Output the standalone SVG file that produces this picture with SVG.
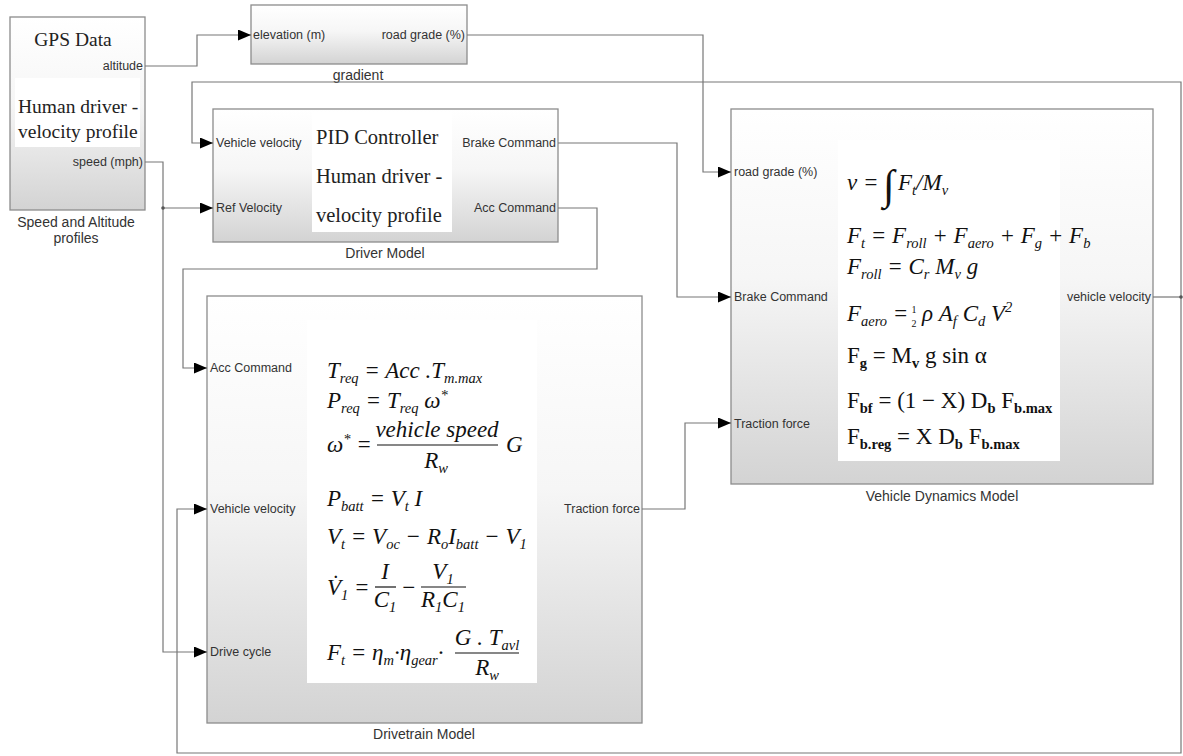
<svg xmlns="http://www.w3.org/2000/svg" width="1183" height="756" viewBox="0 0 1183 756">
<defs>
<linearGradient id="g" x1="0" y1="0" x2="0" y2="1">
<stop offset="0" stop-color="#ffffff"/>
<stop offset="0.45" stop-color="#f6f6f6"/>
<stop offset="1" stop-color="#d3d3d3"/>
</linearGradient>
<marker id="arr" markerUnits="userSpaceOnUse" markerWidth="13" markerHeight="11" refX="13" refY="5.5" orient="auto">
<path d="M0,0 L13,5.5 L0,11 z" fill="#000"/>
</marker>
</defs>
<style>
.blk{fill:url(#g);stroke:#8c8c8c;stroke-width:1.3}
.wb{fill:#ffffff;stroke:none}
.port{font-family:"Liberation Sans",Arial,sans-serif;font-size:12.5px;fill:#333}
.lbl{font-family:"Liberation Sans",Arial,sans-serif;font-size:14px;fill:#333;text-anchor:middle}
.r{text-anchor:end}
.ser{font-family:"Liberation Serif","Times New Roman",serif;font-size:20px;fill:#222}
.eq{font-family:"Liberation Serif","Times New Roman",serif;font-size:23px;font-style:italic;fill:#111}
.eqr{font-family:"Liberation Serif","Times New Roman",serif;font-size:23px;fill:#111}
.sub{font-size:14.5px}
.bs{font-size:14.5px;font-weight:bold}
.mid{text-anchor:middle}
.wire{fill:none;stroke:#777;stroke-width:1.2}
.arw{marker-end:url(#arr)}
.bar{stroke:#111;stroke-width:1.2}
</style>

<g id="gps">
<rect class="blk" x="10" y="17" width="135" height="193"/>
<rect class="wb" x="15" y="78" width="125" height="69"/>
<text class="ser" x="73" y="46" text-anchor="middle" style="font-size:19.5px">GPS Data</text>
<text class="port r" x="143" y="70">altitude</text>
<text class="ser" x="18" y="113" style="font-size:19.5px">Human driver -</text>
<text class="ser" x="18" y="138" style="font-size:19.5px">velocity profile</text>
<text class="port r" x="143" y="166">speed (mph)</text>
<text class="lbl" x="76" y="227">Speed and Altitude</text>
<text class="lbl" x="76" y="243">profiles</text>
</g>

<g id="gradient">
<rect class="blk" x="251" y="5" width="216" height="59"/>
<text class="port" x="253" y="39">elevation (m)</text>
<text class="port r" x="465" y="39">road grade (%)</text>
<text class="lbl" x="358" y="80">gradient</text>
</g>

<g id="driver">
<rect class="blk" x="213" y="109" width="345" height="133"/>
<rect class="wb" x="312" y="112" width="140" height="120"/>
<text class="port" x="216" y="147">Vehicle velocity</text>
<text class="port" x="216" y="212">Ref Velocity</text>
<text class="port r" x="556" y="147">Brake Command</text>
<text class="port r" x="556" y="212">Acc Command</text>
<text class="ser" x="316" y="144" style="font-size:20.5px">PID Controller</text>
<text class="ser" x="316" y="183" style="font-size:20.5px">Human driver -</text>
<text class="ser" x="316" y="222" style="font-size:20.5px">velocity profile</text>
<text class="lbl" x="385" y="258">Driver Model</text>
</g>

<g id="drivetrain">
<rect class="blk" x="207" y="296" width="435" height="427"/>
<rect class="wb" x="307" y="320" width="230" height="363"/>
<text class="port" x="210" y="372">Acc Command</text>
<text class="port" x="210" y="513">Vehicle velocity</text>
<text class="port" x="210" y="656">Drive cycle</text>
<text class="port r" x="640" y="513">Traction force</text>
<text class="lbl" x="424" y="739">Drivetrain Model</text>

<text class="eq" x="327" y="378">T<tspan class="sub" dy="5">req</tspan><tspan dy="-5"> = Acc .T</tspan><tspan class="sub" dy="5">m.max</tspan></text>
<text class="eq" x="327" y="408">P<tspan class="sub" dy="5">req</tspan><tspan dy="-5"> =  T</tspan><tspan class="sub" dy="5">req</tspan><tspan dy="-5"> ω</tspan><tspan class="sub" dy="-8">*</tspan></text>

<text class="eq" x="327" y="452">ω<tspan class="sub" dy="-8">*</tspan><tspan dy="8"> =</tspan></text>
<text class="eq mid" x="437" y="437">vehicle speed</text>
<line class="bar" x1="377" y1="445" x2="498" y2="445"/>
<text class="eq mid" x="436" y="468">R<tspan class="sub" dy="5">w</tspan></text>
<text class="eq" x="506" y="452">G</text>

<text class="eq" x="327" y="506">P<tspan class="sub" dy="5">batt</tspan><tspan dy="-5"> =  V</tspan><tspan class="sub" dy="5">t</tspan><tspan dy="-5"> I</tspan></text>
<text class="eq" x="327" y="544">V<tspan class="sub" dy="5">t</tspan><tspan dy="-5"> =  V</tspan><tspan class="sub" dy="5">oc</tspan><tspan dy="-5"> −  R</tspan><tspan class="sub" dy="5">o</tspan><tspan dy="-5">I</tspan><tspan class="sub" dy="5">batt</tspan><tspan dy="-5"> − V</tspan><tspan class="sub" dy="5">1</tspan></text>

<text class="eq" x="327" y="595">V̇<tspan class="sub" dy="5">1</tspan><tspan dy="-5"> =</tspan></text>
<text class="eq mid" x="385" y="579">I</text>
<line class="bar" x1="375" y1="587" x2="396" y2="587"/>
<text class="eq mid" x="385" y="607">C<tspan class="sub" dy="5">1</tspan></text>
<text class="eq" x="401" y="595">−</text>
<text class="eq mid" x="443" y="579">V<tspan class="sub" dy="5">1</tspan></text>
<line class="bar" x1="421" y1="587" x2="466" y2="587"/>
<text class="eq mid" x="443" y="607">R<tspan class="sub" dy="5">1</tspan><tspan dy="-5">C</tspan><tspan class="sub" dy="5">1</tspan></text>

<text class="eq" x="327" y="660">F<tspan class="sub" dy="5">t</tspan><tspan dy="-5"> = η</tspan><tspan class="sub" dy="5">m</tspan><tspan dy="-5">·η</tspan><tspan class="sub" dy="5">gear</tspan><tspan dy="-5">·</tspan></text>
<text class="eq mid" x="487" y="645">G . T<tspan class="sub" dy="5">avl</tspan></text>
<line class="bar" x1="455" y1="653" x2="519" y2="653"/>
<text class="eq mid" x="487" y="675">R<tspan class="sub" dy="5">w</tspan></text>
</g>

<g id="vehicle-dynamics">
<rect class="blk" x="731" y="109" width="422" height="375"/>
<rect class="wb" x="838" y="140" width="222" height="321"/>
<text class="port" x="734" y="176">road grade (%)</text>
<text class="port" x="734" y="301">Brake Command</text>
<text class="port" x="734" y="428">Traction force</text>
<text class="port r" x="1151" y="301">vehicle velocity</text>
<text class="lbl" x="942" y="501">Vehicle Dynamics Model</text>

<text class="eq" x="847" y="190">v =</text>
<text class="eqr" x="883" y="199" style="font-size:42px">∫</text>
<text class="eq" x="898" y="190">F<tspan class="sub" dy="5">t</tspan><tspan dy="-5">/M</tspan><tspan class="sub" dy="5">v</tspan></text>
<text class="eq" x="847" y="243">F<tspan class="sub" dy="5">t</tspan><tspan dy="-5"> =  F</tspan><tspan class="sub" dy="5">roll</tspan><tspan dy="-5"> +  F</tspan><tspan class="sub" dy="5">aero</tspan><tspan dy="-5"> +  F</tspan><tspan class="sub" dy="5">g</tspan><tspan dy="-5"> +  F</tspan><tspan class="sub" dy="5">b</tspan></text>
<text class="eq" x="847" y="274">F<tspan class="sub" dy="5">roll</tspan><tspan dy="-5"> =  C</tspan><tspan class="sub" dy="5">r</tspan><tspan dy="-5"> M</tspan><tspan class="sub" dy="5">v</tspan><tspan dy="-5"> g</tspan></text>
<text class="eq" x="847" y="321">F<tspan class="sub" dy="5">aero</tspan><tspan dy="-5"> =</tspan></text>
<text class="eqr mid" x="914" y="313" style="font-size:10px">1</text>
<text class="eqr mid" x="914" y="327" style="font-size:10px">2</text>
<text class="eq" x="922" y="321">ρ A<tspan class="sub" dy="5">f</tspan><tspan dy="-5"> C</tspan><tspan class="sub" dy="5">d</tspan><tspan dy="-5"> V</tspan><tspan class="sub" dy="-9">2</tspan></text>
<text class="eqr" x="847" y="363">F<tspan class="bs" dy="5">g</tspan><tspan dy="-5"> = M</tspan><tspan class="bs" dy="5">v</tspan><tspan dy="-5"> g  sin α</tspan></text>
<text class="eqr" x="847" y="408">F<tspan class="bs" dy="5">bf</tspan><tspan dy="-5"> =  (1 − X) D</tspan><tspan class="bs" dy="5">b</tspan><tspan dy="-5"> F</tspan><tspan class="bs" dy="5">b.max</tspan></text>
<text class="eqr" x="847" y="444">F<tspan class="bs" dy="5">b.reg</tspan><tspan dy="-5"> = X D</tspan><tspan class="bs" dy="5">b</tspan><tspan dy="-5"> F</tspan><tspan class="bs" dy="5">b.max</tspan></text>
</g>

<g id="connectors">
<path class="wire arw" d="M145,66 H197 V35 H251"/>
<path class="wire arw" d="M467,35 H703 V172 H731"/>
<path class="wire arw" d="M145,162 H163 V208 H213"/>
<path class="wire arw" d="M163,208 V652 H207"/>
<circle cx="163" cy="208" r="1.8" fill="#555"/>
<path class="wire arw" d="M558,143 H677 V297 H731"/>
<path class="wire arw" d="M558,208 H597 V269 H183 V368 H207"/>
<path class="wire arw" d="M642,509 H685 V423 H731"/>
<path class="wire" d="M1153,297 H1181"/>
<path class="wire arw" d="M1181,297 V82 H192 V143 H213"/>
<path class="wire arw" d="M1181,297 V753 H177 V509 H207"/>
<circle cx="1181" cy="297" r="1.8" fill="#555"/>
</g>
</svg>
